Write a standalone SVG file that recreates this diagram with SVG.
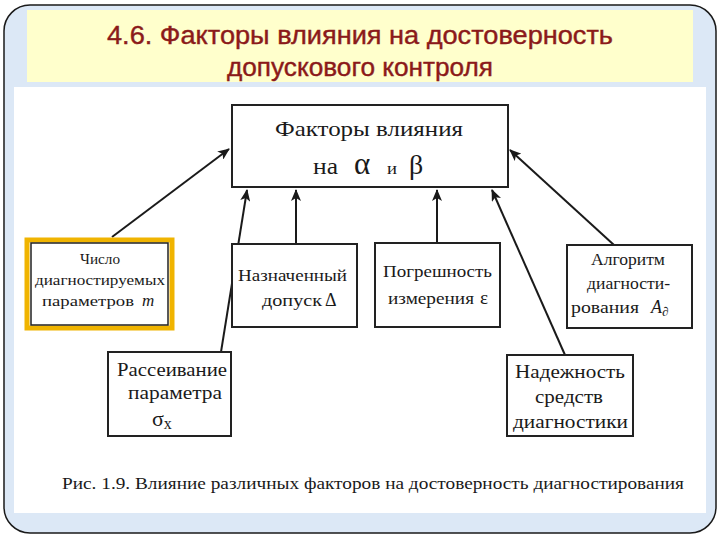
<svg xmlns="http://www.w3.org/2000/svg" width="720" height="540" viewBox="0 0 720 540">
<defs>
<style>
.box{fill:#fff;stroke:#222;stroke-width:2}
.t{font-family:"Liberation Serif","DejaVu Serif",serif;fill:#1a1a1a}
.title{font-family:"Liberation Sans","DejaVu Sans",sans-serif;fill:#8B1A1A;font-size:25px;text-anchor:middle;stroke:#8B1A1A;stroke-width:0.4}
.c{stroke:#1a1a1a;stroke-width:2;fill:none;marker-end:url(#ah)}
</style>
<marker id="ah" viewBox="0 0 12 10" refX="11" refY="5" markerWidth="12" markerHeight="10" markerUnits="userSpaceOnUse" orient="auto">
<path d="M0,0 L12,5 L0,10 L3,5 Z" fill="#1a1a1a"/>
</marker>
</defs>
<rect x="0" y="0" width="720" height="540" fill="#fff"/>
<rect x="4" y="5" width="712" height="528" rx="26" fill="#DCE8F6" stroke="#1a1a1a" stroke-width="1.5"/>
<rect x="27" y="10" width="666" height="72" fill="#FFFFCC"/>
<rect x="14" y="87" width="692" height="426" fill="#fff"/>
<g id="title">
<text class="title" x="360" y="44" textLength="506" lengthAdjust="spacingAndGlyphs">4.6. Факторы  влияния  на  достоверность</text>
<text class="title" x="360" y="76" textLength="266" lengthAdjust="spacingAndGlyphs">допускового контроля</text>
</g>
<g id="connectors">
<line class="c" x1="112" y1="237" x2="229" y2="149"/>
<line class="c" x1="221" y1="352" x2="247" y2="190"/>
<line class="c" x1="296" y1="244" x2="296" y2="190"/>
<line class="c" x1="437" y1="243" x2="437" y2="190"/>
<line class="c" x1="565" y1="355" x2="492" y2="190"/>
<line class="c" x1="614" y1="245" x2="510" y2="150"/>
</g>
<g id="center">
<rect class="box" x="232" y="105" width="276" height="82"/>
<text class="t" x="275" y="136" font-size="21" textLength="188" lengthAdjust="spacingAndGlyphs">Факторы влияния</text>
<text class="t" x="313" y="174" font-size="24" textLength="25" lengthAdjust="spacingAndGlyphs">на</text>
<text class="t" x="354" y="174" font-size="31">α</text>
<text class="t" x="387" y="174" font-size="17" textLength="10" lengthAdjust="spacingAndGlyphs">и</text>
<text class="t" x="409" y="174" font-size="28">β</text>
</g>
<g id="n-chislo">
<rect x="27" y="240" width="145" height="88" fill="#fff" stroke="#F0B400" stroke-width="5"/>
<rect x="31" y="243" width="137" height="82" fill="#fff" stroke="#222" stroke-width="1.5"/>
<text class="t" x="80" y="264" font-size="14" textLength="40" lengthAdjust="spacingAndGlyphs">Число</text>
<text class="t" x="35" y="285" font-size="14" textLength="130" lengthAdjust="spacingAndGlyphs">диагностируемых</text>
<text class="t" x="42" y="306" font-size="14" textLength="92" lengthAdjust="spacingAndGlyphs">параметров</text>
<text class="t" x="142" y="306" font-size="17" font-style="italic">m</text>
</g>
<g id="n-rasseiv">
<rect class="box" x="108" y="352" width="123" height="84"/>
<text class="t" x="117" y="376" font-size="19" textLength="110" lengthAdjust="spacingAndGlyphs">Рассеивание</text>
<text class="t" x="128" y="399" font-size="19" textLength="94" lengthAdjust="spacingAndGlyphs">параметра</text>
<text class="t" x="152" y="426" font-size="22">σ<tspan font-size="16" dy="3">x</tspan></text>
</g>
<g id="n-naznach">
<rect class="box" x="232" y="244" width="125" height="83"/>
<text class="t" x="238" y="281" font-size="17" textLength="109" lengthAdjust="spacingAndGlyphs">Назначенный</text>
<text class="t" x="262" y="306" font-size="17" textLength="60" lengthAdjust="spacingAndGlyphs">допуск</text>
<text class="t" x="325" y="306" font-size="18">Δ</text>
</g>
<g id="n-pogr">
<rect class="box" x="375" y="243" width="125" height="84"/>
<text class="t" x="383" y="277" font-size="17" textLength="109" lengthAdjust="spacingAndGlyphs">Погрешность</text>
<text class="t" x="388" y="304" font-size="17" textLength="86" lengthAdjust="spacingAndGlyphs">измерения</text>
<text class="t" x="480" y="304" font-size="19">ε</text>
</g>
<g id="n-algo">
<rect class="box" x="567" y="245" width="125" height="83"/>
<text class="t" x="591" y="265" font-size="16" textLength="74" lengthAdjust="spacingAndGlyphs">Алгоритм</text>
<text class="t" x="587" y="289" font-size="16" textLength="83" lengthAdjust="spacingAndGlyphs">диагности-</text>
<text class="t" x="571" y="313" font-size="16" textLength="68" lengthAdjust="spacingAndGlyphs">рования</text>
<text class="t" x="651" y="313" font-size="18" font-style="italic">A<tspan font-size="13" dy="3">∂</tspan></text>
</g>
<g id="n-nadezh">
<rect class="box" x="507" y="355" width="126" height="81"/>
<text class="t" x="515" y="378" font-size="19" textLength="110" lengthAdjust="spacingAndGlyphs">Надежность</text>
<text class="t" x="535" y="403" font-size="19" textLength="68" lengthAdjust="spacingAndGlyphs">средств</text>
<text class="t" x="513" y="428" font-size="19" textLength="115" lengthAdjust="spacingAndGlyphs">диагностики</text>
</g>
<text class="t" x="62" y="489" font-size="17" textLength="622" lengthAdjust="spacingAndGlyphs">Рис. 1.9. Влияние различных факторов на достоверность диагностирования</text>
</svg>
